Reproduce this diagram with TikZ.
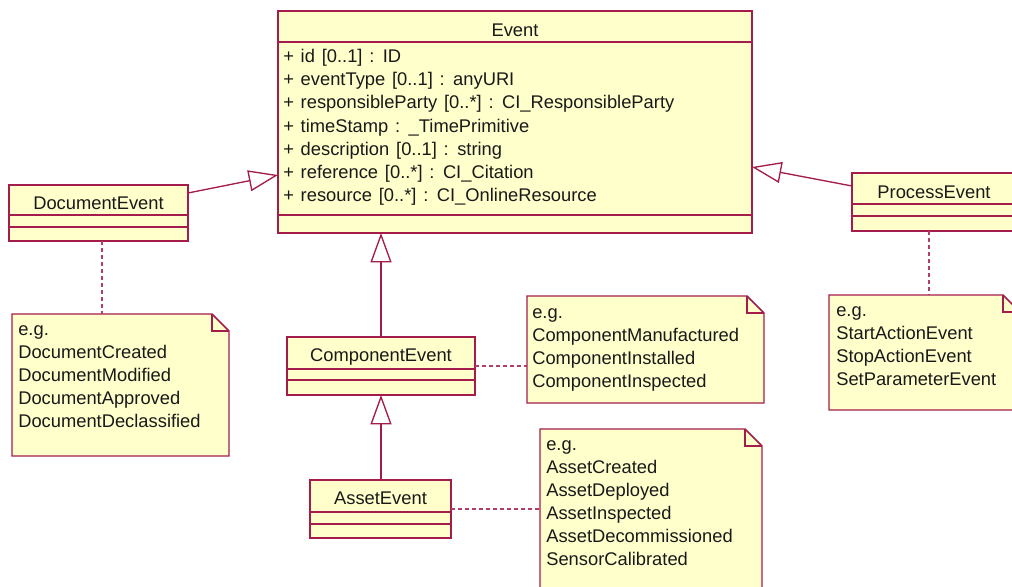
\documentclass[tikz,border=0pt]{standalone}
\usepackage{fontspec}
\setmainfont{Liberation Sans}[WordSpace=1.33]
\usetikzlibrary{arrows.meta,calc}

\definecolor{umlline}{RGB}{163,28,75}
\definecolor{umlfill}{RGB}{255,255,204}

\tikzset{
  every node/.style={font=\fontsize{13.75pt}{16pt}\selectfont, text=black!90},
  wh/.style 2 args={minimum width=#1*0.75pt, minimum height=#2*0.75pt},
  boxline/.style={draw=umlline, line width=1.1pt},
  classbox/.style={rectangle, draw=umlline, fill=umlfill, line width=1.1pt,
    inner sep=0pt, outer sep=0pt, anchor=north west},
  notebox/.style={rectangle, inner sep=0pt, outer sep=0pt, anchor=north west},
  title/.style={anchor=base, inner sep=0pt},
  line/.style={anchor=base west, inner sep=0pt},
  gen/.style={draw=umlline, line width=1pt,
    -{Triangle[open, length=22pt, width=15.75pt, line width=1pt]}},
  anchorline/.style={draw=umlline!85, line width=1pt, dash pattern=on 3pt off 2.25pt},
}

% horizontal compartment separators of a class box, offsets from its top
\newcommand\compartments[3]{%
  \draw[boxline] ($(#1.north west)+(0,#2)$) -- ($(#1.north east)+(0,#2)$)
                 ($(#1.north west)+(0,#3)$) -- ($(#1.north east)+(0,#3)$);}

% dog-eared note outline around an (empty) note node
\newcommand\notesheet[1]{%
  \filldraw[boxline,fill=umlfill] (#1.north west) -- ($(#1.north east)+(-17,0)$)
     -- ($(#1.north east)+(0,17)$) -- (#1.south east) -- (#1.south west) -- cycle;
  \draw[boxline] ($(#1.north east)+(-17,0)$) |- ($(#1.north east)+(0,17)$);}

\begin{document}
\begin{tikzpicture}[x=0.75pt,y=-0.75pt]
\useasboundingbox (0,0) rectangle (1012,586);
\fill[white] (0,0) rectangle (1012,586);
\clip (0,0) rectangle (1012,586);

% ---------------- class boxes ----------------
\node[classbox, wh={474}{222}] (event)   at (278,11)  {};
\node[classbox, wh={179}{56}]  (docev)   at (9,185)   {};
\node[classbox, wh={164}{58}]  (procev)  at (852,173) {};
\node[classbox, wh={188}{58}]  (compev)  at (287,337) {};
\node[classbox, wh={141}{58}]  (assetev) at (310,480) {};

\compartments{event}{31}{204}
\compartments{docev}{30}{42}
\compartments{procev}{31}{43}
\compartments{compev}{32}{43}
\compartments{assetev}{32}{44}

\node[title] (event-t)   at ($(event.north)+(0,25)$)   {Event};
\node[title] (docev-t)   at ($(docev.north)+(0,24)$)   {DocumentEvent};
\node[title] (procev-t)  at ($(procev.north)+(0,25)$)  {ProcessEvent};
\node[title] (compev-t)  at ($(compev.north)+(0,24)$)  {ComponentEvent};
\node[title] (assetev-t) at ($(assetev.north)+(0,24)$) {AssetEvent};

\foreach \t [count=\i from 0] in {%
    {+ id [0..1] : ID},
    {+ eventType [0..1] : anyURI},
    {+ responsibleParty [0..*] : CI\_ResponsibleParty},
    {+ timeStamp : \_TimePrimitive},
    {+ description [0..1] : string},
    {+ reference [0..*] : CI\_Citation},
    {+ resource [0..*] : CI\_OnlineResource}}
  \node[line] (event-a\i) at ($(event.north west)+(5,51.5+23.2*\i)$) {\t};

% ---------------- notes ----------------
\node[notebox, wh={217}{142}] (docnote)   at (12,314)  {};
\node[notebox, wh={191}{115}] (procnote)  at (829,295) {};
\node[notebox, wh={237}{107}] (compnote)  at (527,296) {};
\node[notebox, wh={222}{171}] (assetnote) at (540,429) {};

\notesheet{docnote}
\notesheet{procnote}
\notesheet{compnote}
\notesheet{assetnote}

\foreach \t [count=\i from 0] in {e.g., DocumentCreated, DocumentModified,
    DocumentApproved, DocumentDeclassified}
  \node[line] (docnote-l\i) at ($(docnote.north west)+(6,21+23*\i)$) {\t};
\foreach \t [count=\i from 0] in {e.g., StartActionEvent, StopActionEvent,
    SetParameterEvent}
  \node[line] (procnote-l\i) at ($(procnote.north west)+(7,21+23*\i)$) {\t};
\foreach \t [count=\i from 0] in {e.g., ComponentManufactured,
    ComponentInstalled, ComponentInspected}
  \node[line] (compnote-l\i) at ($(compnote.north west)+(5,22+23*\i)$) {\t};
\foreach \t [count=\i from 0] in {e.g., AssetCreated, AssetDeployed,
    AssetInspected, AssetDecommissioned, SensorCalibrated}
  \node[line] (assetnote-l\i) at ($(assetnote.north west)+(6,21+23*\i)$) {\t};

% ---------------- generalisations ----------------
\draw[gen] ($(docev.north east)+(0,8)$) -- ($(event.north west)+(0,164)$);
\draw[gen] ($(procev.north west)+(0,13)$) -- ($(event.north east)+(0,156)$);
\draw[gen] (compev.north) -- (compev.north |- event.south);
\draw[gen] (compev.south |- assetev.north) -- (compev.south);

% ---------------- note anchors ----------------
\coordinate (docpin)  at ($(docev.south)+(3.5,0)$);
\coordinate (procpin) at ($(procev.south)+(-5,0)$);
\draw[anchorline] (docpin) -- (docpin |- docnote.north);
\draw[anchorline] (procpin) -- (procpin |- procnote.north);
\draw[anchorline] (compev.east) -- (compev.east -| compnote.west);
\draw[anchorline] (assetev.east) -- (assetev.east -| assetnote.west);
\end{tikzpicture}
\end{document}
